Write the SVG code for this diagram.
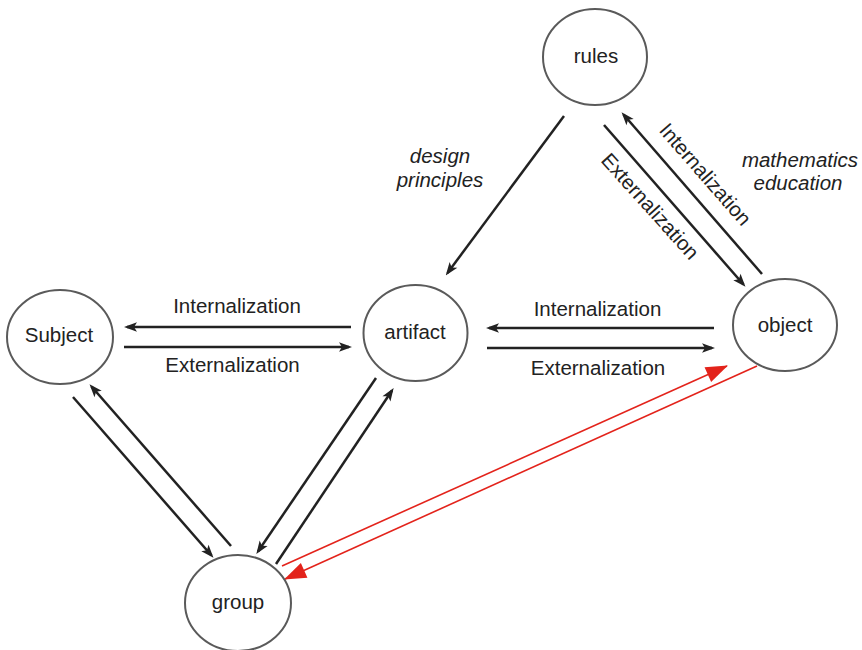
<svg xmlns="http://www.w3.org/2000/svg" width="862" height="650" viewBox="0 0 862 650">
  <style>
    .node ellipse { fill: #ffffff; stroke: #5a5a5a; stroke-width: 2; }
    .label { font-family: "Liberation Sans", Arial, sans-serif; font-size: 20.5px; fill: #222222; text-anchor: middle; }
    .italic { font-style: italic; }
    .arrow { stroke: #222222; stroke-width: 2.5; fill: none; marker-end: url(#head); }
    .red { stroke: #e3231b; stroke-width: 1.6; fill: none; marker-end: url(#redhead); }
  </style>
  <defs>
    <marker id="head" viewBox="-12 -6 15 12" refX="0" refY="0" markerWidth="15" markerHeight="12" markerUnits="userSpaceOnUse" orient="auto">
      <path d="M3,0 L-10,-4.8 L-7,0 L-10,4.8 z" fill="#222222"/>
    </marker>
    <marker id="redhead" viewBox="-23 -9 25 18" refX="0" refY="0" markerWidth="25" markerHeight="18" markerUnits="userSpaceOnUse" orient="auto">
      <path d="M1,0 L-21,-8 L-21,8 z" fill="#e3231b"/>
    </marker>
  </defs>
  <rect width="862" height="650" fill="#ffffff"/>

  <!-- connectors -->
  <g id="connectors">
    <line class="arrow" x1="124" y1="347" x2="349" y2="347"/>
    <line class="arrow" x1="351" y1="327" x2="127" y2="327"/>
    <line class="arrow" x1="714" y1="328" x2="489" y2="328"/>
    <line class="arrow" x1="487" y1="348" x2="712" y2="348"/>
    <line class="arrow" x1="564" y1="116" x2="447.5" y2="273"/>
    <line class="arrow" x1="604" y1="125" x2="743.5" y2="284.5"/>
    <line class="arrow" x1="762" y1="274" x2="623.5" y2="114.5"/>
    <line class="arrow" x1="73" y1="397" x2="211.5" y2="555.5"/>
    <line class="arrow" x1="231" y1="546" x2="91.5" y2="386.5"/>
    <line class="arrow" x1="376" y1="378" x2="258" y2="551.5"/>
    <line class="arrow" x1="276" y1="564" x2="392" y2="390.5"/>
    <line class="red" x1="282" y1="566" x2="727" y2="366"/>
    <line class="red" x1="757" y1="366" x2="285" y2="579"/>
  </g>

  <!-- nodes -->
  <g id="rules" class="node">
    <ellipse cx="595" cy="57" rx="52" ry="48"/>
    <text class="label" x="596" y="63">rules</text>
  </g>
  <g id="subject" class="node">
    <ellipse cx="60" cy="337" rx="53" ry="47"/>
    <text class="label" x="59" y="342">Subject</text>
  </g>
  <g id="artifact" class="node">
    <ellipse cx="415.5" cy="333" rx="52" ry="48"/>
    <text class="label" x="415" y="339">artifact</text>
  </g>
  <g id="object" class="node">
    <ellipse cx="785" cy="325" rx="52" ry="46"/>
    <text class="label" x="785" y="332">object</text>
  </g>
  <g id="group" class="node">
    <ellipse cx="238" cy="603" rx="53" ry="48"/>
    <text class="label" x="238" y="609">group</text>
  </g>

  <!-- edge labels -->
  <g id="labels">
    <text class="label" x="237" y="313">Internalization</text>
    <text class="label" x="232.5" y="372">Externalization</text>
    <text class="label" x="597.5" y="316">Internalization</text>
    <text class="label" x="598" y="375">Externalization</text>
    <text class="label" transform="translate(700,179) rotate(49)" x="0" y="0">Internalization</text>
    <text class="label" transform="translate(645,211) rotate(48)" x="0" y="0">Externalization</text>
    <text class="label italic" x="440" y="163">design</text>
    <text class="label italic" x="440" y="187">principles</text>
    <text class="label italic" x="800" y="167">mathematics</text>
    <text class="label italic" x="798" y="190">education</text>
  </g>
</svg>
